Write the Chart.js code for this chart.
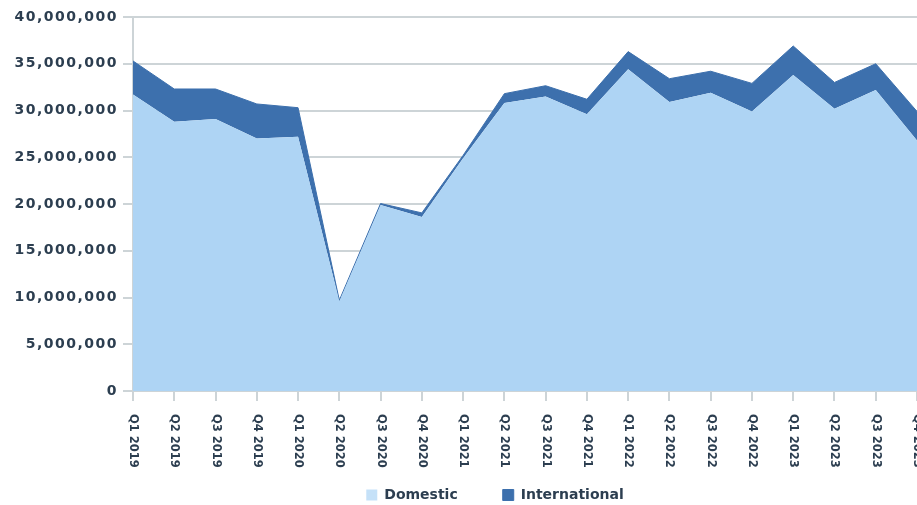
<!DOCTYPE html>
<html>
<head>
<meta charset="utf-8">
<script src="https://cdn.jsdelivr.net/npm/chart.js@4.4.1/dist/chart.umd.min.js"></script>
<style>
  html, body { margin: 0; padding: 0; background: #fff; overflow: hidden; }
  #wrap { position: relative; width: 917px; height: 505px; }
</style>
</head>
<body>
<div id="wrap"><canvas id="chart1"></canvas></div>
<script>
const quarters = ['Q1 2019', 'Q2 2019', 'Q3 2019', 'Q4 2019', 'Q1 2020', 'Q2 2020', 'Q3 2020', 'Q4 2020',
  'Q1 2021', 'Q2 2021', 'Q3 2021', 'Q4 2021', 'Q1 2022', 'Q2 2022', 'Q3 2022', 'Q4 2022',
  'Q1 2023', 'Q2 2023', 'Q3 2023', 'Q4 2023'];
const domestic = [31700000, 28800000, 29100000, 27000000, 27200000, 9600000, 19900000, 18600000,
  24900000, 30800000, 31500000, 29600000, 34400000, 30900000, 31900000, 29900000,
  33800000, 30200000, 32200000, 26800000];
const international = [3600000, 3500000, 3200000, 3700000, 3100000, 100000, 150000, 450000,
  300000, 1000000, 1150000, 1600000, 1900000, 2500000, 2300000, 3000000,
  3100000, 2800000, 2800000, 3100000];
const yTicks = [0, 5000000, 10000000, 15000000, 20000000, 25000000, 30000000, 35000000, 40000000];

const textColor = '#2c3e50';
const gridColor = '#cdd4d7';
const fontFamily = 'DejaVu Sans';

// y labels need a little letter spacing, and may run past the scale box
class SpacedLinear extends Chart.LinearScale {
  drawLabels(area) {
    this.ctx.save();
    this.ctx.letterSpacing = '1.5px';
    super.drawLabels(area);
    this.ctx.restore();
  }
  _computeLabelArea() {
    return undefined;
  }
}
SpacedLinear.id = 'spacedLinear';
SpacedLinear.defaults = Chart.LinearScale.defaults;

// x labels read downwards, starting at the axis, and are not clipped
class DownCategory extends Chart.CategoryScale {
  _computeLabelItems(area) {
    const items = super._computeLabelItems(area);
    for (const it of items) {
      it.options.rotation = Math.PI / 2;
      it.options.textAlign = 'left';
      it.textOffset = -it.textOffset;
    }
    return items;
  }
  _computeLabelArea() {
    return undefined;
  }
}
DownCategory.id = 'downCategory';
DownCategory.defaults = Chart.CategoryScale.defaults;

Chart.register(SpacedLinear, DownCategory);

var ctx = document.getElementById('chart1');
var myChart = new Chart(ctx, {
  type: 'line',
  data: {
    labels: quarters,
    datasets: [{
      label: 'Domestic',
      data: domestic,
      backgroundColor: '#aed4f4',
      borderColor: '#aed4f4',
      borderWidth: 0,
      fill: 'origin',
      pointRadius: 0,
      tension: 0
    }, {
      label: 'International',
      data: international,
      backgroundColor: '#3d70ad',
      borderColor: '#3d70ad',
      borderWidth: 1,
      fill: '-1',
      pointRadius: 0,
      tension: 0
    }]
  },
  options: {
    responsive: true,
    maintainAspectRatio: false,
    animation: false,
    devicePixelRatio: 1,
    layout: {
      padding: { top: 17, left: 73, right: 0, bottom: -7 }
    },
    plugins: {
      tooltip: { enabled: false },
      legend: {
        position: 'bottom',
        labels: {
          boxWidth: 11,
          boxHeight: 11,
          padding: 45,
          color: textColor,
          font: { family: fontFamily, size: 14, weight: 'bold' },
          generateLabels: function (chart) {
            let items = Chart.defaults.plugins.legend.labels.generateLabels(chart);
            items[0].fillStyle = '#c5e1f8';
            return items;
          }
        }
      }
    },
    scales: {
      x: {
        type: 'downCategory',
        offset: false,
        afterFit: function (s) { s.height = 52; s.paddingRight = 0; s.paddingLeft = 0; },
        grid: {
          drawOnChartArea: false,
          drawTicks: true,
          tickLength: 10,
          color: gridColor,
          lineWidth: 2
        },
        border: { display: true, color: gridColor, width: 2 },
        ticks: {
          autoSkip: false,
          minRotation: 90,
          maxRotation: 90,
          padding: 13,
          color: textColor,
          font: { family: fontFamily, size: 11.5, weight: 'bold' }
        }
      },
      y: {
        type: 'spacedLinear',
        stacked: true,
        min: 0,
        max: 40000000,
        afterFit: function (s) { s.width = 60; },
        afterBuildTicks: function (s) { s.ticks = yTicks.map(v => ({ value: v })); },
        grid: {
          drawTicks: true,
          tickLength: 10,
          color: gridColor,
          lineWidth: 2
        },
        border: { display: true, color: gridColor, width: 2 },
        ticks: {
          padding: 5,
          color: textColor,
          font: { family: fontFamily, size: 14, weight: 'bold' },
          callback: function (value) { return value.toLocaleString('en-US'); }
        }
      }
    }
  }
});
</script>
</body>
</html>
